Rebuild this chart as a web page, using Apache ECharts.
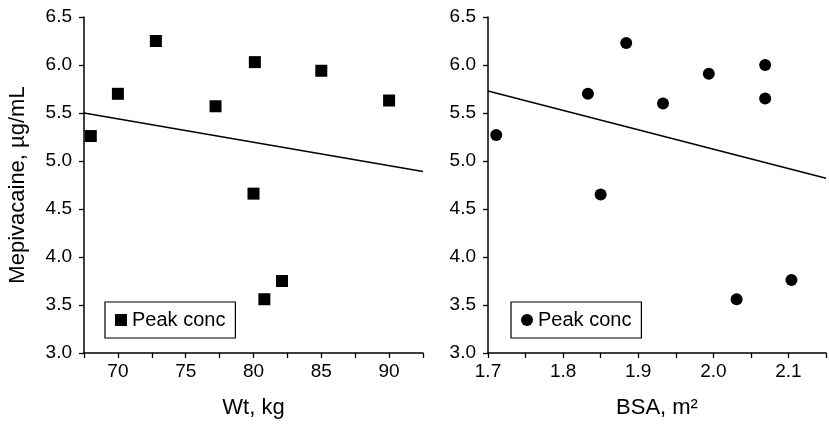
<!DOCTYPE html>
<html>
<head>
<meta charset="utf-8">
<script src="https://cdn.jsdelivr.net/npm/echarts@6/dist/echarts.min.js"></script>
<style>
html,body{margin:0;padding:0;background:#fff;}
#chart{width:829px;height:424px;}
</style>
</head>
<body>
<div id="chart"></div>
<script>
// Left panel: weight vs peak concentration
var wtValues = [68.0, 70.0, 72.8, 77.2, 80.1, 80.0, 85.0, 90.0, 80.8, 82.1];
var wtConc   = [5.26, 5.70, 6.25, 5.57, 6.03, 4.66, 5.94, 5.63, 3.56, 3.75];
var wtFitX   = [67.5, 92.5];
var wtFitY   = [5.50, 4.89];

// Right panel: BSA vs peak concentration
var bsaValues = [1.711, 1.833, 1.884, 1.850, 1.933, 1.994, 2.069, 2.069, 2.031, 2.104];
var bsaConc   = [5.27, 5.70, 6.23, 4.65, 5.60, 5.91, 6.00, 5.65, 3.56, 3.76];
var bsaFitX   = [1.70, 2.15];
var bsaFitY   = [5.73, 4.82];

var yTicks = {min: 3.0, max: 6.5, interval: 0.5};
var seriesName = 'Peak conc';
var yTitle = 'Mepivacaine, \u00b5g/mL';
var xTitleLeft = 'Wt, kg';
var xTitleRight = 'BSA, m\u00b2';

function zip(a, b) { return a.map(function (v, i) { return [v, b[i]]; }); }

var FONT = '"Liberation Sans", Arial, Helvetica, sans-serif';
var INK = '#000';

function axisCommon() {
  return {
    axisLine: {show: true, onZero: false, lineStyle: {color: INK, width: 1.5}},
    axisTick: {show: true, inside: false, length: 5, lineStyle: {color: INK, width: 1.3}},
    splitLine: {show: false},
    nameTextStyle: {color: INK, fontFamily: FONT, fontSize: 22}
  };
}

function merge(a, b) { for (var k in b) a[k] = b[k]; return a; }

var chart = echarts.init(document.getElementById('chart'), null, {renderer: 'canvas'});

var option = {
  animation: false,
  backgroundColor: '#fff',
  grid: [
    {left: 84, top: 17, width: 339, height: 338},
    {left: 488, top: 17, width: 339, height: 338}
  ],
  xAxis: [
    merge(axisCommon(), {
      type: 'value', gridIndex: 0, min: 67.5, max: 92.5, interval: 2.5,
      name: xTitleLeft, nameLocation: 'middle', nameGap: 44,
      axisLabel: {color: INK, fontFamily: FONT, fontSize: 19, margin: 9, showMinLabel: true, showMaxLabel: true,
        formatter: function (v) { return (Math.abs(v % 5) < 1e-6) ? String(Math.round(v)) : ''; }}
    }),
    merge(axisCommon(), {
      type: 'value', gridIndex: 1, min: 1.7, max: 2.15, interval: 0.05,
      name: xTitleRight, nameLocation: 'middle', nameGap: 44,
      axisLabel: {color: INK, fontFamily: FONT, fontSize: 19, margin: 9, showMinLabel: true, showMaxLabel: true,
        formatter: function (v) { var r = Math.round(v * 100); return (r % 10 === 0) ? (r / 100).toFixed(1) : ''; }}
    })
  ],
  yAxis: [
    merge(axisCommon(), {
      type: 'value', gridIndex: 0, min: yTicks.min, max: yTicks.max, interval: yTicks.interval,
      name: yTitle, nameLocation: 'middle', nameGap: 55, nameRotate: 90,
      axisLabel: {color: INK, fontFamily: FONT, fontSize: 19, margin: 12,
        formatter: function (v) { return v.toFixed(1); }}
    }),
    merge(axisCommon(), {
      type: 'value', gridIndex: 1, min: yTicks.min, max: yTicks.max, interval: yTicks.interval,
      axisLabel: {color: INK, fontFamily: FONT, fontSize: 19, margin: 12,
        formatter: function (v) { return v.toFixed(1); }}
    })
  ],
  legend: [
    {
      left: 105, top: 302, orient: 'horizontal',
      data: [{name: seriesName, icon: 'rect'}],
      itemWidth: 12, itemHeight: 12,
      padding: [8, 10, 8, 10],
      borderColor: INK, borderWidth: 1.2, borderRadius: 0,
      selectedMode: false,
      textStyle: {color: INK, fontFamily: FONT, fontSize: 20}
    },
    {
      left: 511, top: 302, orient: 'horizontal',
      data: [{name: seriesName, icon: 'circle'}],
      itemWidth: 12, itemHeight: 12,
      padding: [8, 10, 8, 10],
      borderColor: INK, borderWidth: 1.2, borderRadius: 0,
      selectedMode: false,
      textStyle: {color: INK, fontFamily: FONT, fontSize: 20}
    }
  ],
  series: [
    {
      name: seriesName, type: 'scatter', xAxisIndex: 0, yAxisIndex: 0,
      symbol: 'rect', symbolSize: 12,
      itemStyle: {color: INK, opacity: 1},
      data: zip(wtValues, wtConc)
    },
    {
      name: 'fitWt', type: 'line', xAxisIndex: 0, yAxisIndex: 0,
      showSymbol: false, symbol: 'none',
      lineStyle: {color: INK, width: 1.5},
      data: zip(wtFitX, wtFitY)
    },
    {
      name: seriesName, type: 'scatter', xAxisIndex: 1, yAxisIndex: 1,
      symbol: 'circle', symbolSize: 12,
      itemStyle: {color: INK, opacity: 1},
      data: zip(bsaValues, bsaConc)
    },
    {
      name: 'fitBsa', type: 'line', xAxisIndex: 1, yAxisIndex: 1,
      showSymbol: false, symbol: 'none',
      lineStyle: {color: INK, width: 1.5},
      data: zip(bsaFitX, bsaFitY)
    }
  ]
};

chart.setOption(option);
</script>
</body>
</html>
